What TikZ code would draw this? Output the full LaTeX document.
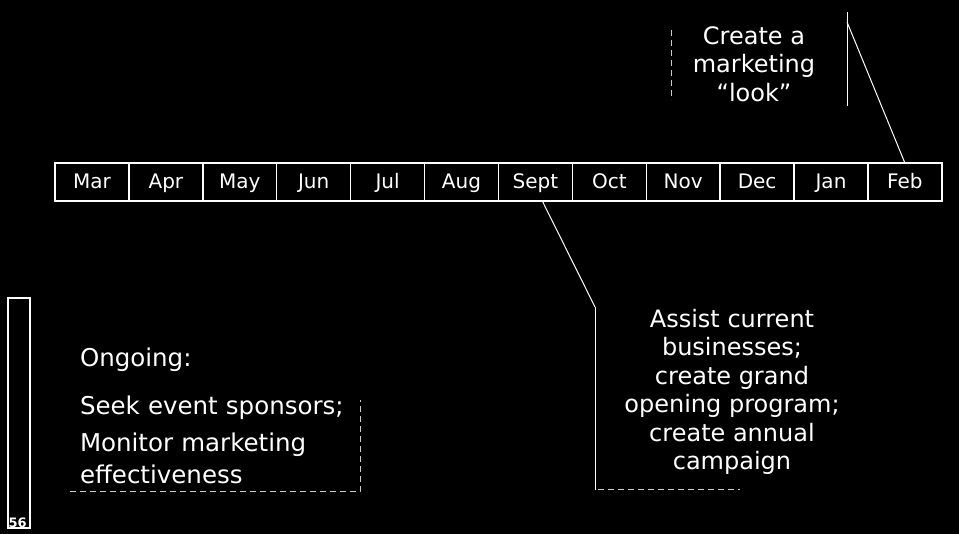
\documentclass[tikz,border=0pt]{standalone}
\usepackage{fontspec}
\setmainfont{DejaVu Sans}
\usetikzlibrary{positioning}

\begin{document}
\begin{tikzpicture}[x=1pt, y=-1pt]
\tikzstyle{month}=[rectangle, draw=white, line width=1.4pt, outer sep=0pt, inner sep=0pt, minimum width=73.9pt, minimum height=38pt, text height=14.5pt, text depth=2pt, text=white, font=\fontsize{20}{24}\selectfont]
\tikzstyle{note}=[rectangle, inner sep=0pt, outer sep=0pt, text=white, align=center, font=\fontsize{24}{28.5}\selectfont]
\tikzstyle{connect}=[draw=white, line width=1pt]
\tikzstyle{broken}=[draw=white!80!black, line width=1pt, dash pattern=on 6pt off 4pt]
\fill[black] (0,0) rectangle (959,534);
\useasboundingbox (0,0) rectangle (959,534);
  \node[month] (mar) at (92,182) {Mar};
  \node[month] (apr) [right =0pt of mar] {Apr};
  \node[month] (may) [right =0pt of apr] {May};
  \node[month] (jun) [right =0pt of may] {Jun};
  \node[month] (jul) [right =0pt of jun] {Jul};
  \node[month] (aug) [right =0pt of jul] {Aug};
  \node[month] (sept) [right =0pt of aug] {Sept};
  \node[month] (oct) [right =0pt of sept] {Oct};
  \node[month] (nov) [right =0pt of oct] {Nov};
  \node[month] (dec) [right =0pt of nov] {Dec};
  \node[month] (jan) [right =0pt of dec] {Jan};
  \node[month] (feb) [right =0pt of jan] {Feb};
  % callouts
  \node[note, minimum width=186pt, minimum height=104pt] (look) at (754,64) {Create a\\marketing\\“look”};
  \node[note, minimum width=274pt, minimum height=196pt] (assist) at (732,392) {Assist current\\businesses;\\create grand\\opening program;\\create annual\\campaign};
  \node[note, align=left, text width=270pt, inner xsep=10pt, minimum height=152pt, font=\fontsize{24.5}{32}\selectfont] (ongoing) at (215,416) {Ongoing:\\[16pt]Seek event sponsors;\\[5pt]Monitor marketing\\effectiveness};
  \node[rectangle, draw=white, line width=1.2pt, minimum width=22pt, minimum height=230pt] (pagebar) at (19,413) {};
  \node[text=white, font=\bfseries\fontsize{13}{13}\selectfont, inner sep=1pt, anchor=south west] (pagenum) at (pagebar.south west) {56};
  \path (feb.north) edge[connect] ([yshift=-10pt]look.north east)
           (look.north east) edge[connect] ([yshift=10pt]look.south east)
           (sept.290) edge[connect] ([yshift=-13pt]assist.north west)
           ([yshift=-13pt]assist.north west) edge[connect] (assist.south west)
           ;
  \draw[broken] ([xshift=10pt, yshift=-18pt]look.north west) -- ([xshift=10pt, yshift=16pt]look.south west);
  \draw[broken] ([xshift=3pt]assist.south west) -- ([xshift=145pt]assist.south west);
  \draw[broken] (ongoing.south west) -- (ongoing.south east) -- ([yshift=92pt]ongoing.south east);
  \draw[white, line width=0.8pt] ([yshift=-65pt]pagebar.south west) -- ([yshift=-65pt]pagebar.south east);
\end{tikzpicture}
\end{document}
